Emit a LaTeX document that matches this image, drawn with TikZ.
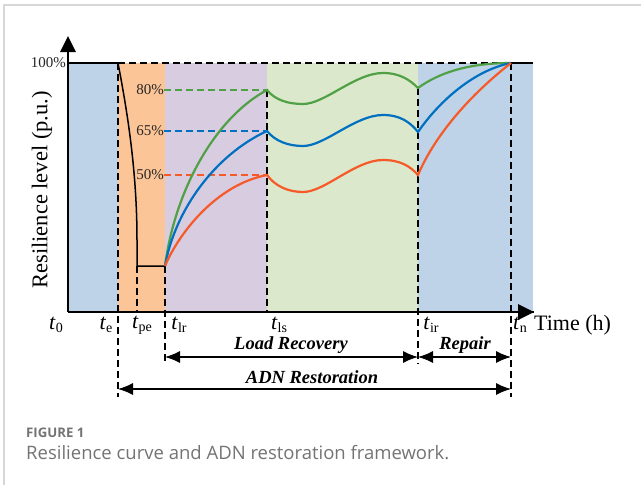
\documentclass[tikz,border=0pt]{standalone}
\usepackage{fontspec}
\setmainfont{Liberation Serif}
\newfontfamily\capfont{Open Sans}
\usetikzlibrary{arrows.meta}
\definecolor{rblue}{RGB}{190,211,232}
\definecolor{rorange}{RGB}{252,197,152}
\definecolor{rpurple}{RGB}{216,204,225}
\definecolor{rgreen}{RGB}{220,232,203}
\definecolor{cgreen}{RGB}{80,160,70}
\definecolor{cblue}{RGB}{0,112,192}
\definecolor{cred}{RGB}{245,90,40}
\definecolor{framegray}{RGB}{215,215,215}
\definecolor{capgray}{RGB}{115,115,115}
\newcommand{\tlab}[1]{\textit{t}\raisebox{-0.3ex}{\fontsize{14}{14}\selectfont #1}}
\tikzset{
  vdash/.style={black, line width=1.3pt, dash pattern=on 7pt off 4pt},
  cdash/.style={line width=1.3pt, dash pattern=on 7pt off 4pt},
  axisline/.style={black, line width=2pt},
  curve/.style={line width=2.2pt},
  pct/.style={font=\fontsize{15}{15}\selectfont, anchor=east, inner sep=0pt, text=black!85},
  tl/.style={font=\fontsize{22}{22}\selectfont, inner sep=0pt},
  phase/.style={font=\fontsize{18.5}{18.5}\selectfont\bfseries\itshape, inner sep=0pt},
  bigarrow/.style={black, line width=1.2pt, {Latex[length=15pt,width=12pt]}-{Latex[length=15pt,width=12pt]}},
}
\begin{document}
\begin{tikzpicture}[x=1pt,y=-1pt]
\useasboundingbox (0,0) rectangle (641,485);
% frame
\draw[framegray, line width=1.5pt] (4,485) -- (4,5) -- (641,5);
% regions
\fill[rblue] (68,63) rectangle (118,312);
\fill[rorange] (118,63) rectangle (165,312);
\fill[rpurple] (165,63) rectangle (267,312);
\fill[rgreen] (267,63) rectangle (418,312);
\fill[rblue] (418,63) rectangle (533,312);
% key coordinates
\coordinate (o) at (68,312);
\coordinate (ytip) at (68,38);
\coordinate (xtip) at (534,312);
\coordinate (top) at (68,63);
\coordinate (te) at (118,63);
\coordinate (tn) at (511,63);
\coordinate (topend) at (533,63);
\coordinate (pe) at (137,266);
\coordinate (lr) at (165,266);
\coordinate (g1) at (267,90);
\coordinate (b1) at (267,131);
\coordinate (r1) at (267,175);
\coordinate (g2) at (418,88);
\coordinate (b2) at (418,132);
\coordinate (r2) at (418,175);
% 100% line
\draw[black, line width=2.2pt] (top) -- (te);
\draw[vdash] (te) -- (tn);
\draw[black, line width=2.2pt] (tn) -- (topend);
% percent dashed lines
\node[pct] (p100) at (66,63) {100\%};
\node[pct] (p80) at (164,90) {80\%};
\node[pct] (p65) at (164,131) {65\%};
\node[pct] (p50) at (164,175) {50\%};
\draw[cdash, cgreen] (p80.east) -- (g1);
\draw[cdash, cblue] (p65.east) -- (b1);
\draw[cdash, cred] (p50.east) -- (r1);
% vertical dashed lines
\coordinate (teb) at (118,397);
\coordinate (peb) at (137,312);
\coordinate (lrb) at (165,364);
\coordinate (lsb) at (267,312);
\coordinate (irb) at (418,364);
\coordinate (tnb) at (511,397);
\draw[vdash] (te) -- (teb);
\draw[vdash] (pe) -- (peb);
\draw[vdash] (lr) -- (lrb);
\draw[vdash] (g1) -- (lsb);
\draw[vdash] (g2) -- (irb);
\draw[vdash] (tn) -- (tnb);
% disruption curve
\draw[black, line width=1.5pt] (te) .. controls (127,110) and (137,170) .. (137,240) -- (pe) -- (lr);
% recovery curves
\draw[curve, cgreen] (lr) .. controls (175,190) and (215,118) .. (g1)
  .. controls (275,100) and (288,104) .. (303,104)
  .. controls (325,104) and (355,73) .. (383,73)
  .. controls (400,73) and (410,80) .. (g2)
  .. controls (440,72) and (470,63) .. (tn);
\draw[curve, cblue] (lr) .. controls (175,210) and (215,155) .. (b1)
  .. controls (275,141) and (288,146) .. (303,146)
  .. controls (325,146) and (355,115) .. (383,115)
  .. controls (400,115) and (410,122) .. (b2)
  .. controls (440,100) and (475,70) .. (tn);
\draw[curve, cred] (lr) .. controls (178,235) and (215,185) .. (r1)
  .. controls (275,186) and (288,192) .. (303,192)
  .. controls (325,192) and (355,160) .. (383,160)
  .. controls (400,160) and (410,166) .. (r2)
  .. controls (435,135) and (470,95) .. (tn);
% axes
\draw[axisline] (o) -- (xtip);
\draw[axisline] (o) -- (ytip);
\fill[black] (534,312) -- (518,304) -- (518,320) -- cycle;
\fill[black] (68,36) -- (60,52) -- (76,52) -- cycle;
% axis labels
\node[font=\fontsize{22.5}{22.5}\selectfont, rotate=90, inner sep=0pt] (ylab) at (42,190) {Resilience level (p.u.)};
\node[tl, anchor=west] (xlab) at (534,325) {Time (h)};
\node[tl] (lt0) at (56,325) {\tlab{0}};
\node[tl] (lte) at (106,325) {\tlab{e}};
\node[tl] (ltpe) at (142,325) {\tlab{pe}};
\node[tl] (ltlr) at (179,325) {\tlab{lr}};
\node[tl] (ltls) at (279,325) {\tlab{ls}};
\node[tl] (ltir) at (431,325) {\tlab{ir}};
\node[tl] (ltn) at (520,325) {\tlab{n}};
% phase arrows
\coordinate (lra) at (165,357);
\coordinate (ira) at (418,357);
\coordinate (tna) at (511,357);
\coordinate (tea2) at (118,389);
\coordinate (tnb2) at (511,389);
\draw[bigarrow] (lra) -- (ira);
\draw[bigarrow] (ira) -- (tna);
\draw[bigarrow] (tea2) -- (tnb2);
\node[phase] (lrec) at (291,345) {Load Recovery};
\node[phase] (rep) at (465,345) {Repair};
\node[phase] (adn) at (312,377) {ADN Restoration};
% caption
\node[font=\capfont\fontsize{13.2}{13.2}\selectfont\bfseries, text=capgray, anchor=west, inner sep=0pt] (fig) at (26,433) {FIGURE 1};
\node[font=\capfont\fontsize{18.5}{18.5}\selectfont, text=capgray, anchor=west, inner sep=0pt] (cap) at (26,453) {Resilience curve and ADN restoration framework.};
\end{tikzpicture}
\end{document}
